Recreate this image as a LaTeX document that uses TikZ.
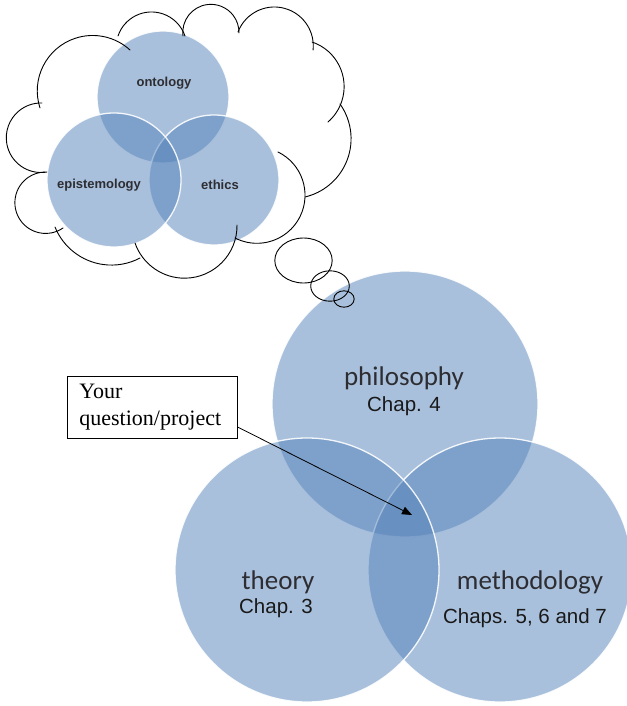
\documentclass[tikz,border=0pt]{standalone}
\usepackage{fontspec}
\setmainfont{Liberation Serif}
\newfontfamily\calib{Carlito}
\newfontfamily\arialf{Liberation Sans}
\usetikzlibrary{arrows.meta,calc}
\definecolor{vennblue}{RGB}{83,130,186}
\definecolor{labelgrey}{RGB}{45,45,50}
\tikzset{
  venn/.style={fill=vennblue, fill opacity=0.5, draw=white, draw opacity=0.9, line width=1.3pt},
  cloudline/.style={draw=black, line width=0.9pt, line cap=round},
  bubble/.style={draw=black, line width=0.9pt},
  biglabel/.style={font=\fontsize{27}{30}\selectfont\calib, text=labelgrey, inner sep=0pt},
  chaplabel/.style={font=\fontsize{20.5}{24}\selectfont\arialf, text=black!90, inner sep=0pt},
  smalllabel/.style={font=\fontsize{13}{15}\selectfont\arialf\bfseries, text=labelgrey, inner sep=0pt},
}
% one bump of the cloud: circular arc from P1 through P2 to P3
% (coordinates are scaled down by 100 inside to keep pgfmath in range)
\newcommand\cloudarc[6]{%
  \pgfmathsetmacro\cPax{#1/100}\pgfmathsetmacro\cPay{#2/100}%
  \pgfmathsetmacro\cPbx{#3/100}\pgfmathsetmacro\cPby{#4/100}%
  \pgfmathsetmacro\cPcx{#5/100}\pgfmathsetmacro\cPcy{#6/100}%
  \pgfmathsetmacro\cDen{2*(\cPax*(\cPby-\cPcy)+\cPbx*(\cPcy-\cPay)+\cPcx*(\cPay-\cPby))}%
  \pgfmathsetmacro\cSa{\cPax*\cPax+\cPay*\cPay}%
  \pgfmathsetmacro\cSb{\cPbx*\cPbx+\cPby*\cPby}%
  \pgfmathsetmacro\cSc{\cPcx*\cPcx+\cPcy*\cPcy}%
  \pgfmathsetmacro\cUx{(\cSa*(\cPby-\cPcy)+\cSb*(\cPcy-\cPay)+\cSc*(\cPay-\cPby))/\cDen}%
  \pgfmathsetmacro\cUy{(\cSa*(\cPcx-\cPbx)+\cSb*(\cPax-\cPcx)+\cSc*(\cPbx-\cPax))/\cDen}%
  \pgfmathsetmacro\cRad{100*veclen(\cPax-\cUx,\cPay-\cUy)}%
  \pgfmathsetmacro\cAa{atan2(\cPay-\cUy,\cPax-\cUx)}%
  \pgfmathsetmacro\cAb{atan2(\cPby-\cUy,\cPbx-\cUx)}%
  \pgfmathsetmacro\cAc{atan2(\cPcy-\cUy,\cPcx-\cUx)}%
  \pgfmathsetmacro\cDb{mod(\cAb-\cAa+720,360)}%
  \pgfmathsetmacro\cDc{mod(\cAc-\cAa+720,360)}%
  \pgfmathsetmacro\cEnd{\cDb<\cDc ? \cAa+\cDc : \cAa-(360-\cDc)}%
  \draw[cloudline] (#1,#2) arc[start angle=\cAa, end angle=\cEnd, radius=\cRad];%
}
\begin{document}
\begin{tikzpicture}[x=1pt, y=-1pt]
\useasboundingbox (0,0) rectangle (626,706);

% small Venn diagram inside the thought cloud
\draw[venn] (163,97) circle[radius=66];
\draw[venn] (214,180) circle[radius=65];
\draw[venn] (114,180) circle[radius=67];
\node[smalllabel] (onto) at (164,83) {ontology};
\node[smalllabel] (epis) at (99,185) {epistemology};
\node[smalllabel] (ethi) at (220,185) {ethics};

% thought cloud outline, one arc per bump
\cloudarc{40}{108}{85}{36}{130}{50}
\cloudarc{118}{36}{150}{12}{185}{36}
\cloudarc{183}{36}{217}{5}{239}{33}
\cloudarc{238}{32}{283}{8}{313}{50}
\cloudarc{312}{42}{344}{90}{328}{122}
\cloudarc{340}{104}{350}{150}{305}{197}
\cloudarc{278}{152}{305}{197}{235}{238}
\cloudarc{237}{225}{180}{278}{135}{243}
\cloudarc{55}{227}{83}{258}{140}{258}
\cloudarc{63}{228}{15}{200}{45}{172}
\cloudarc{47}{172}{8}{127}{42}{103}

% large Venn diagram
\draw[venn] (405,404) circle[radius=133];
\draw[venn] (500,570) circle[radius=132];
\draw[venn] (307,570) circle[radius=132];

% thought bubbles leading to the cloud
\draw[bubble] (303.5,260.5) ellipse[x radius=28.7, y radius=22.5];
\draw[bubble] (330,286) ellipse[x radius=19.3, y radius=15.2];
\draw[bubble] (344,299) ellipse[x radius=10.2, y radius=8.2];

\node[biglabel] (phil) at (404,378) {philosophy};
\node[chaplabel] (philc) at (404,406) {Chap. 4};
\node[biglabel] (theo) at (278,582) {theory};
\node[chaplabel] (theoc) at (276,608) {Chap. 3};
\node[biglabel] (meth) at (530,582) {methodology};
\node[chaplabel] (methc) at (525,618) {Chaps. 5, 6 and 7};

% question box and arrow into the triple overlap
\node[draw=black, line width=0.8pt, fill=white, anchor=west, inner xsep=12pt, inner ysep=0pt,
      text width=146pt, minimum height=62pt, align=left,
      font=\fontsize{22}{27}\selectfont] (box) at (67,407) {Your\\question/project};
\coordinate (target) at (412,515);
\draw[line width=0.8pt, -{Triangle[length=10pt, width=8pt]}]
  ($(box.south east)!0.18!(box.north east)$) -- (target);
\end{tikzpicture}
\end{document}
